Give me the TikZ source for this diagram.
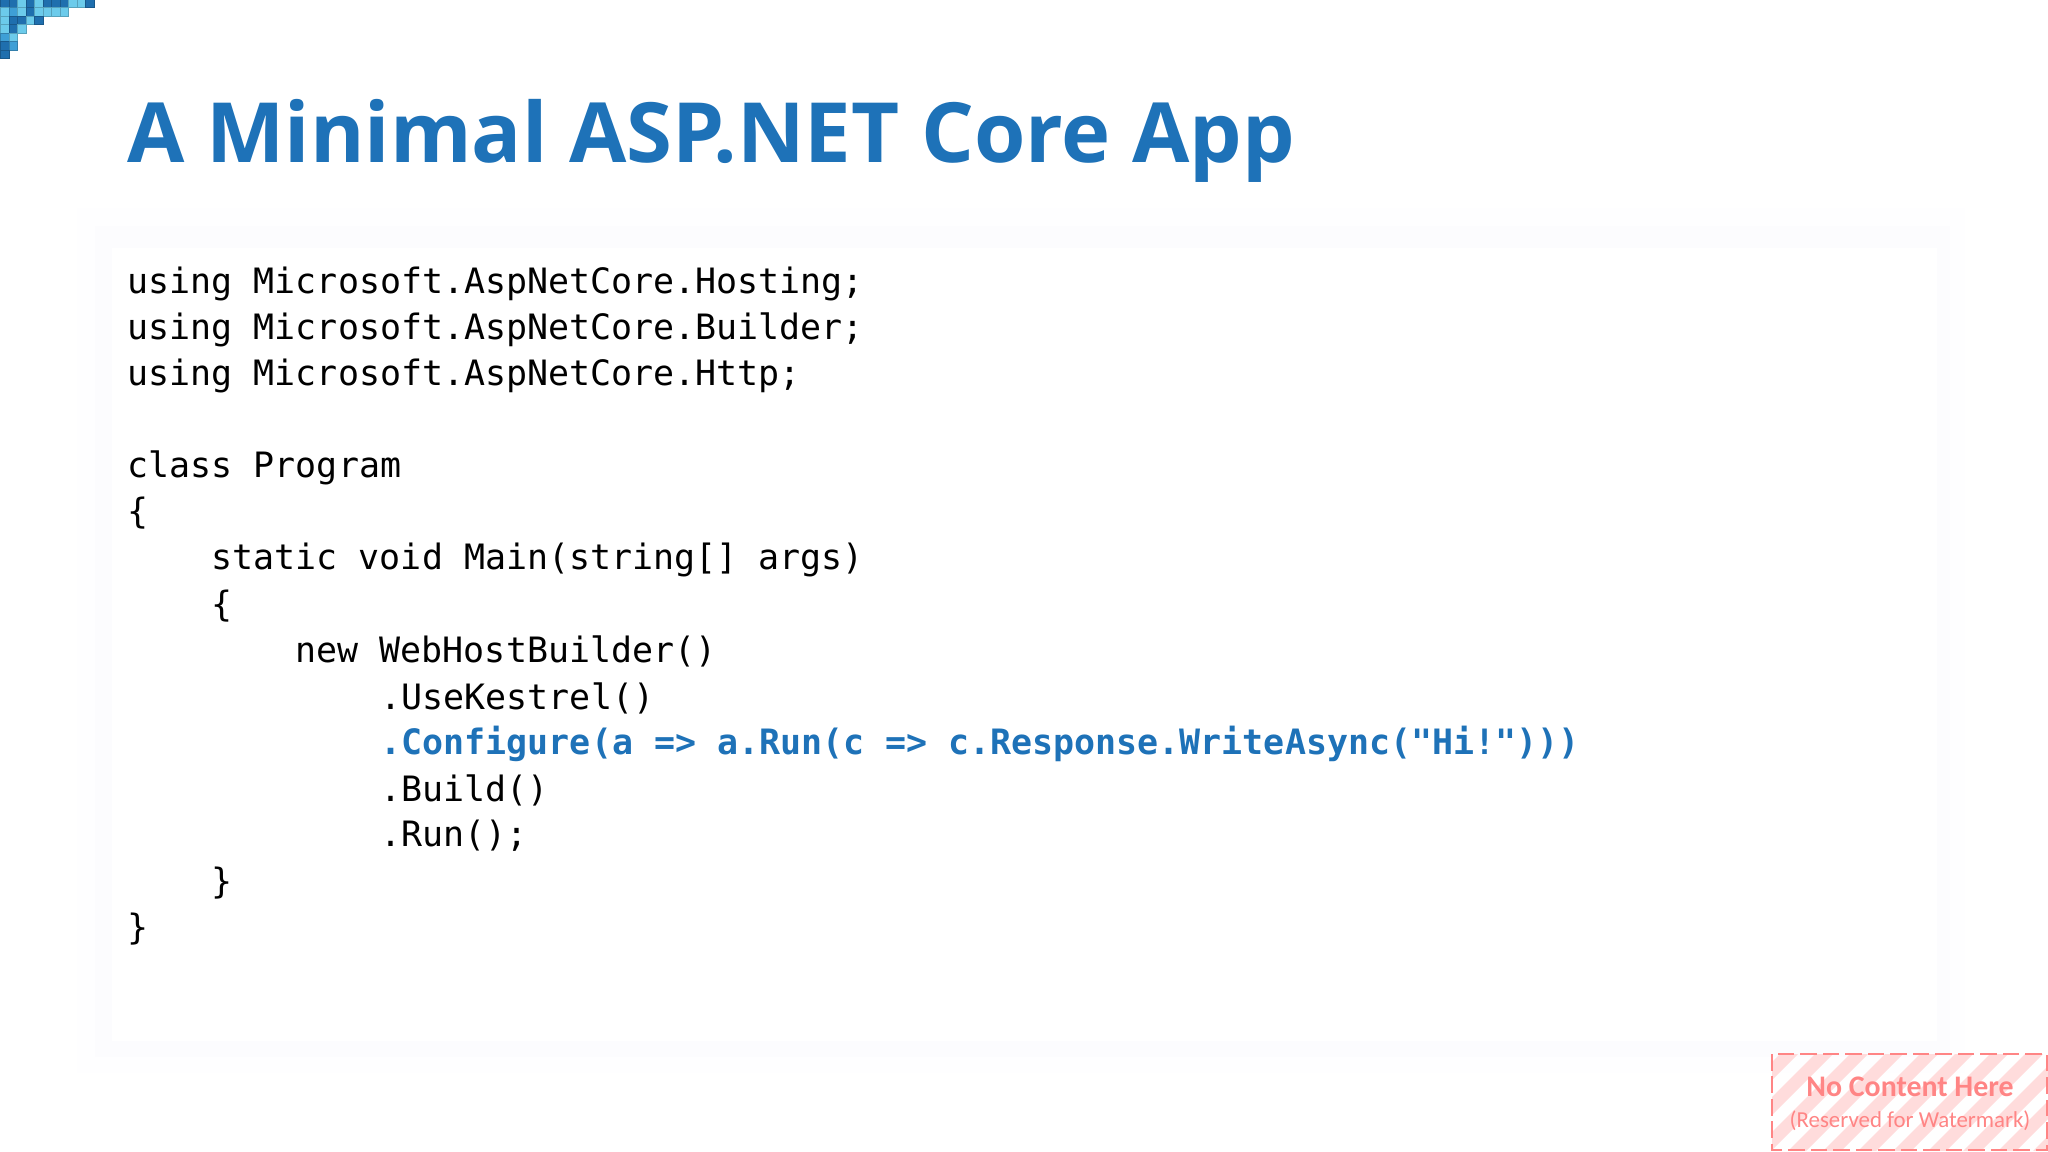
\documentclass[tikz,border=0pt]{standalone}
\usepackage{xcolor}
\usepackage{fontspec}
\setmainfont{Open Sans}
\newfontfamily\codefont{DejaVu Sans Mono}
\newfontfamily\markfont{Carlito}
\usetikzlibrary{positioning}

\definecolor{titleblue}{HTML}{1E72B8}
\definecolor{panelout}{HTML}{FEFEFF}
\definecolor{panelmid}{HTML}{FCFCFE}
\definecolor{markred}{HTML}{FF8585}
\definecolor{stripepink}{HTML}{FFDCDC}
\definecolor{pixa}{HTML}{1F6FAE}
\definecolor{pixb}{HTML}{3E9FD6}
\definecolor{pixc}{HTML}{6CCBEB}

\tikzset{
  codeline/.style={anchor=base west, inner sep=0pt, font=\codefont\fontsize{9.94pt}{12pt}\selectfont, text=black},
  pixel/.style={draw=#1!80!black, fill=#1, line width=0.3pt},
}

\begin{document}
\begin{tikzpicture}
      \useasboundingbox (0,0) rectangle (20.48,-11.52);
      \fill[white] (0,0) rectangle (20.48,-11.52);
      % panel behind the code
      \fill[panelout] (0.77,-2.08) rectangle (19.65,-10.73);
      \fill[panelmid] (0.95,-2.26) rectangle (19.50,-10.57);
      \fill[white] (1.12,-2.48) rectangle (19.37,-10.41);
      % corner mosaic
      \foreach \col [count=\i from 0] in {pixa,pixa,pixc,pixa,pixc,pixa,pixa,pixa,pixc,pixc,pixa}
        \node[pixel=\col, minimum size=0.085cm, inner sep=0pt, anchor=south west] (r0c\i) at (0.085*\i,-0.085) {};
      \foreach \col [count=\i from 0] in {pixc,pixb,pixc,pixa,pixc,pixc,pixc,pixc}
        \node[pixel=\col, minimum size=0.085cm, inner sep=0pt, anchor=south west] (r1c\i) at (0.085*\i,-0.17) {};
      \foreach \col [count=\i from 0] in {pixc,pixa,pixa,pixc,pixa}
        \node[pixel=\col, minimum size=0.085cm, inner sep=0pt, anchor=south west] (r2c\i) at (0.085*\i,-0.255) {};
      \foreach \col [count=\i from 0] in {pixc,pixa,pixc}
        \node[pixel=\col, minimum size=0.085cm, inner sep=0pt, anchor=south west] (r3c\i) at (0.085*\i,-0.34) {};
      \foreach \col [count=\i from 0] in {pixb,pixc}
        \node[pixel=\col, minimum size=0.085cm, inner sep=0pt, anchor=south west] (r4c\i) at (0.085*\i,-0.425) {};
      \foreach \col [count=\i from 0] in {pixa,pixb}
        \node[pixel=\col, minimum size=0.085cm, inner sep=0pt, anchor=south west] (r5c\i) at (0.085*\i,-0.51) {};
      \node[pixel=pixa, minimum size=0.085cm, inner sep=0pt, anchor=south west] (r6c0) at (0,-0.595) {};
      % title
      \node[anchor=base west, inner sep=0pt, text=titleblue, font=\bfseries\fontsize{23.65pt}{30pt}\selectfont] (title) at (1.27,-1.63) {A Minimal ASP.NET Core App};
      % code
      \node[codeline] (using1) at (1.27,-2.94) {using Microsoft.AspNetCore.Hosting;};
      \node[codeline] (using2) at (1.27,-3.40) {using Microsoft.AspNetCore.Builder;};
      \node[codeline] (using3) at (1.27,-3.86) {using Microsoft.AspNetCore.Http;};
      \node[codeline] (class) at (1.27,-4.78) {class Program};
      \node[codeline] (open1) at (1.27,-5.24) {\{};
      \node[codeline] (main) at (2.11,-5.70) {static void Main(string[] args)};
      \node[codeline] (open2) at (2.11,-6.17) {\{};
      \node[codeline] (new) at (2.95,-6.63) {new WebHostBuilder()};
      \node[codeline] (kestrel) at (3.80,-7.09) {.UseKestrel()};
      \node[codeline, text=titleblue, font=\codefont\bfseries\fontsize{9.94pt}{12pt}\selectfont] (configure) at (3.80,-7.55) {.Configure(a => a.Run(c => c.Response.WriteAsync("Hi!")))};
      \node[codeline] (build) at (3.80,-8.01) {.Build()};
      \node[codeline] (run) at (3.80,-8.47) {.Run();};
      \node[codeline] (close2) at (2.11,-8.93) {\}};
      \node[codeline] (close1) at (1.27,-9.39) {\}};
      % watermark box
      \begin{scope}
        \clip (17.72,-10.54) rectangle (20.48,-11.50);
        \foreach \x in {0,...,12}
          \fill[stripepink] (16.39+0.35*\x,-11.60) -- ++(0.18,0) -- ++(1.2,1.2) -- ++(-0.18,0) -- cycle;
      \end{scope}
      \draw[markred, line width=0.8pt, dash pattern=on 4.7pt off 1.7pt] (17.72,-10.54) rectangle (20.47,-11.50);
      \node[inner sep=0pt, text=markred, font=\markfont\bfseries\fontsize{8.5pt}{10pt}\selectfont] (nocontent) at (19.10,-10.87) {No Content Here};
      \node[inner sep=0pt, text=markred, below=0.12cm of nocontent, font=\markfont\fontsize{6.5pt}{8pt}\selectfont] (reserved) {(Reserved for Watermark)};
    \end{tikzpicture}
\end{document}
